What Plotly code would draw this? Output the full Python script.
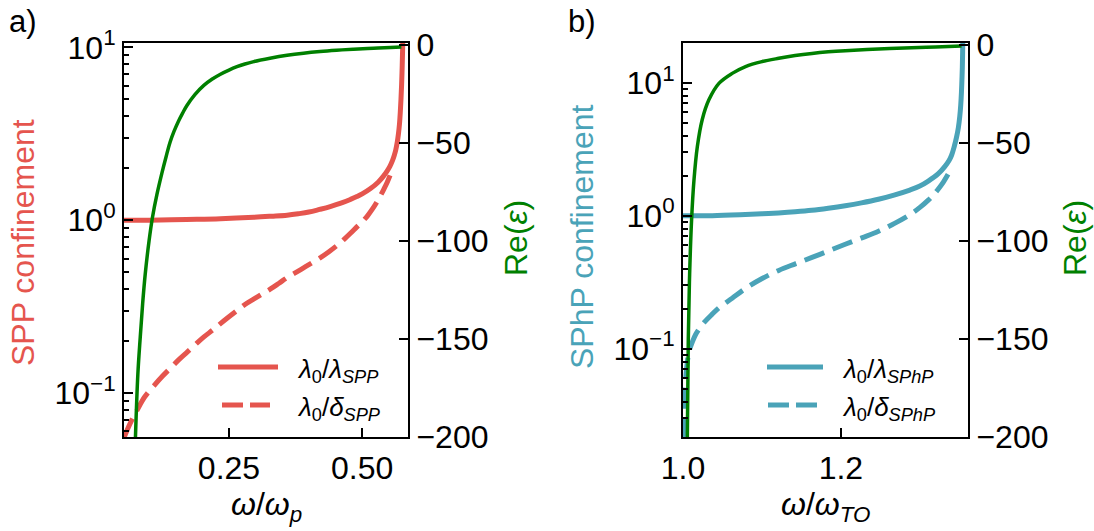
import plotly.graph_objects as go

# ---------------- data ----------------
# panel a: SPP (Drude metal), x = omega / omega_p
spp_w_lam = [0.053, 0.10, 0.17, 0.234, 0.297, 0.33, 0.359, 0.38, 0.40, 0.42, 0.44, 0.46, 0.478,
             0.49, 0.50, 0.515, 0.53, 0.54, 0.547, 0.552, 0.557, 0.560, 0.563, 0.566, 0.568,
             0.570, 0.5715, 0.5728, 0.5740, 0.5750, 0.5758, 0.5765]
spp_lam = [1.00, 1.00, 1.01, 1.02, 1.04, 1.055, 1.07, 1.09, 1.115, 1.155, 1.20, 1.255, 1.32,
           1.37, 1.42, 1.52, 1.66, 1.80, 1.93, 2.05, 2.22, 2.36, 2.55, 2.85, 3.15,
           3.6, 4.2, 5.0, 6.1, 7.6, 9.5, 12.0]

spp_w_del = [0.053, 0.060, 0.068, 0.078, 0.092, 0.109, 0.125, 0.14, 0.156, 0.172, 0.188, 0.203,
             0.22, 0.234, 0.25, 0.265, 0.28, 0.297, 0.313, 0.328, 0.344, 0.359, 0.375, 0.39,
             0.405, 0.421, 0.437, 0.453, 0.466, 0.478, 0.49, 0.50, 0.51, 0.52, 0.528,
             0.535, 0.541, 0.547, 0.553, 0.557]
spp_del = [0.055, 0.062, 0.070, 0.080, 0.095, 0.110, 0.125, 0.139, 0.156, 0.173, 0.192, 0.211,
           0.232, 0.252, 0.276, 0.300, 0.325, 0.350, 0.375, 0.400, 0.432, 0.465, 0.497, 0.53,
           0.565, 0.605, 0.655, 0.715, 0.775, 0.84, 0.915, 0.98, 1.06, 1.17, 1.28,
           1.40, 1.52, 1.66, 1.84, 2.0]

spp_w_eps = [0.0745, 0.079, 0.0835, 0.088, 0.0928, 0.100, 0.1064, 0.115, 0.124, 0.132, 0.1396,
             0.147, 0.155, 0.163, 0.1708, 0.186, 0.2028, 0.218, 0.234, 0.25, 0.265, 0.28,
             0.2965, 0.327, 0.359, 0.39, 0.421, 0.452, 0.483, 0.51, 0.530, 0.553, 0.5735]
spp_eps = [-200, -168, -149, -132, -117, -100, -88, -76, -65.5, -57, -49.5,
           -44, -39, -34.8, -31, -25.3, -20.6, -17.5, -14.9, -12.8, -11.1, -9.7,
           -8.5, -6.8, -5.3, -4.2, -3.35, -2.7, -2.15, -1.8, -1.55, -1.3, -1.1]

# panel b: SPhP (polar dielectric), x = omega / omega_TO
sphp_w_lam = [1.0, 1.037, 1.079, 1.10, 1.121, 1.142, 1.163, 1.184, 1.2055, 1.226, 1.2476,
              1.2673, 1.2873, 1.30, 1.3107, 1.3234, 1.3318, 1.3370, 1.3402, 1.3435, 1.3465,
              1.3488, 1.3506, 1.3518, 1.3527, 1.3533, 1.3538, 1.3542, 1.3546]
sphp_lam = [1.0, 1.0, 1.02, 1.033, 1.05, 1.072, 1.10, 1.14, 1.19, 1.25, 1.33,
            1.43, 1.56, 1.67, 1.82, 2.07, 2.35, 2.6, 2.85, 3.3, 3.9,
            4.6, 5.6, 6.8, 8.5, 10.5, 13, 17, 24]

sphp_w_del = [1.0005, 1.0015, 1.003, 1.005, 1.0076, 1.012, 1.016, 1.022, 1.0286, 1.037,
              1.0455, 1.0623, 1.0792, 1.1002, 1.1213, 1.1423, 1.1634, 1.1844, 1.2055, 1.2265,
              1.2476, 1.2686, 1.2897, 1.3005, 1.3107, 1.3175, 1.3234, 1.330, 1.336]
sphp_del = [0.021, 0.036, 0.055, 0.075, 0.095, 0.113, 0.128, 0.145, 0.162, 0.182,
            0.203, 0.240, 0.284, 0.337, 0.388, 0.435, 0.486, 0.544, 0.61, 0.682,
            0.764, 0.88, 1.04, 1.16, 1.31, 1.44, 1.59, 1.80, 2.06]

sphp_w_eps = [1.0055, 1.0067, 1.0084, 1.0109, 1.0139, 1.0181, 1.0244, 1.0328, 1.0455,
              1.0623, 1.0792, 1.1000, 1.1213, 1.142, 1.1634, 1.184, 1.2055, 1.2476, 1.2897,
              1.3200, 1.3528]
sphp_eps = [-200, -150, -117, -89, -69, -52, -38, -28, -19.6,
            -14.5, -11, -8.5, -6.8, -5.4, -4.3, -3.5, -2.9, -2.0, -1.4, -1.0, -0.5]

xticks_a = [0.25, 0.50]
xticklabels_a = ["0.25", "0.50"]
xticks_b = [1.0, 1.2]
xticklabels_b = ["1.0", "1.2"]
log_ticks = [0.1, 1, 10]
log_ticklabels = ["10<sup>−1</sup>", "10<sup>0</sup>", "10<sup>1</sup>"]
eps_ticks = [0, -50, -100, -150, -200]
eps_ticklabels = ["0", "−50", "−100", "−150", "−200"]

# ---------------- style ----------------
W, H = 1094, 531
RED = "#e5554e"
BLUE = "#4aa3b8"
GREEN = "#008000"
FONT = "Liberation Sans"
TICKFS = 32
LABFS = 32


def fx(p):
    return p / W


def fy(p):
    return 1 - p / H


fig = go.Figure()

SM = 1.0
# panel a
fig.add_trace(go.Scatter(x=spp_w_lam, y=spp_lam, mode="lines", xaxis="x", yaxis="y",
                         line=dict(color=RED, width=5, shape="spline", smoothing=SM),
                         showlegend=False))
fig.add_trace(go.Scatter(x=spp_w_del, y=spp_del, mode="lines", xaxis="x", yaxis="y",
                         line=dict(color=RED, width=5, dash="21px,9px", shape="spline",
                                   smoothing=SM),
                         showlegend=False))
fig.add_trace(go.Scatter(x=spp_w_eps, y=spp_eps, mode="lines", xaxis="x", yaxis="y2",
                         line=dict(color=GREEN, width=3.5, shape="spline", smoothing=SM),
                         showlegend=False))
# panel b
fig.add_trace(go.Scatter(x=sphp_w_lam, y=sphp_lam, mode="lines", xaxis="x2", yaxis="y3",
                         line=dict(color=BLUE, width=5, shape="spline", smoothing=SM),
                         showlegend=False))
fig.add_trace(go.Scatter(x=sphp_w_del, y=sphp_del, mode="lines", xaxis="x2", yaxis="y3",
                         line=dict(color=BLUE, width=5, dash="21px,9px", shape="spline",
                                   smoothing=SM),
                         showlegend=False))
fig.add_trace(go.Scatter(x=sphp_w_eps, y=sphp_eps, mode="lines", xaxis="x2", yaxis="y4",
                         line=dict(color=GREEN, width=3.5, shape="spline", smoothing=SM),
                         showlegend=False))

common_x = dict(ticks="inside", ticklen=9, tickwidth=2, tickcolor="black",
                showline=True, linewidth=2, linecolor="black", mirror=True,
                showgrid=False, zeroline=False, tickfont=dict(size=TICKFS, color="black"),
                ticklabelstandoff=2, automargin=False)
common_y = dict(ticks="inside", ticklen=9, tickwidth=2, tickcolor="black",
                showline=True, linewidth=2, linecolor="black",
                showgrid=False, zeroline=False, tickfont=dict(size=TICKFS, color="black"),
                ticklabelstandoff=0, automargin=False)

ydom = [fy(437), fy(43)]

minor_a = [0.06, 0.07, 0.08, 0.09, 0.2, 0.3, 0.4, 0.5, 0.6, 0.7, 0.8, 0.9,
           2, 3, 4, 5, 6, 7, 8, 9]
minor_b = [0.03, 0.04, 0.05, 0.06, 0.07, 0.08, 0.09, 0.2, 0.3, 0.4, 0.5, 0.6, 0.7, 0.8, 0.9,
           2, 3, 4, 5, 6, 7, 8, 9]

fig.update_layout(
    width=W, height=H,
    margin=dict(l=0, r=0, t=0, b=0, autoexpand=False),
    paper_bgcolor="white", plot_bgcolor="white",
    font=dict(family=FONT, color="black", size=TICKFS),
    xaxis=dict(domain=[fx(124), fx(408)], range=[0.053, 0.586], anchor="y",
               tickvals=xticks_a, ticktext=xticklabels_a, **common_x),
    yaxis=dict(domain=ydom, type="log", range=[-1.255, 1.026], anchor="x",
               tickvals=log_ticks, ticktext=log_ticklabels,
               minor=dict(tickvals=minor_a, ticks="inside", ticklen=5, tickwidth=1.5,
                          tickcolor="black"),
               **common_y),
    yaxis2=dict(overlaying="y", side="right", anchor="x", range=[-200, 1],
                tickvals=eps_ticks, ticktext=eps_ticklabels, **common_y),
    xaxis2=dict(domain=[fx(683), fx(968)], range=[1.0, 1.361], anchor="y3",
                tickvals=xticks_b, ticktext=xticklabels_b, **common_x),
    yaxis3=dict(domain=ydom, type="log", range=[-1.664, 1.299], anchor="x2",
                tickvals=log_ticks, ticktext=log_ticklabels,
                minor=dict(tickvals=minor_b, ticks="inside", ticklen=5, tickwidth=1.5,
                           tickcolor="black"),
                **common_y),
    yaxis4=dict(overlaying="y3", side="right", anchor="x2", range=[-200, 1],
                tickvals=eps_ticks, ticktext=eps_ticklabels, **common_y),
)

ann = []


def text(x, y, s, size=LABFS, color="black", angle=0, xanchor="center", yanchor="middle"):
    ann.append(dict(x=fx(x), y=fy(y), xref="paper", yref="paper", text=s, showarrow=False,
                    font=dict(family=FONT, size=size, color=color), textangle=angle,
                    xanchor=xanchor, yanchor=yanchor))


text(23, 22, "a)", size=31)
text(582, 22, "b)", size=31)
text(23, 243, "SPP confinement", color=RED, angle=-90)
text(582, 236, "SPhP confinement", color=BLUE, angle=-90)
text(516, 238, "Re(<i>ε</i>)", color=GREEN, angle=-90)
text(1075, 238, "Re(<i>ε</i>)", color=GREEN, angle=-90)
text(266, 506, "<i>ω</i>/<i>ω</i><sub><i>p</i></sub>")
text(825, 506, "<i>ω</i>/<i>ω</i><sub><i>TO</i></sub>")

# legends
LEGFS = 26
text(295, 370, "<i>λ</i><sub>0</sub>/<i>λ</i><sub><i>SPP</i></sub>", size=LEGFS, xanchor="left")
text(295, 408, "<i>λ</i><sub>0</sub>/<i>δ</i><sub><i>SPP</i></sub>", size=LEGFS, xanchor="left")
text(840, 370, "<i>λ</i><sub>0</sub>/<i>λ</i><sub><i>SPhP</i></sub>", size=LEGFS, xanchor="left")
text(840, 408, "<i>λ</i><sub>0</sub>/<i>δ</i><sub><i>SPhP</i></sub>", size=LEGFS, xanchor="left")

shapes = [
    dict(type="line", xref="paper", yref="paper", x0=fx(218), x1=fx(278), y0=fy(367), y1=fy(367),
         line=dict(color=RED, width=5)),
    dict(type="line", xref="paper", yref="paper", x0=fx(222), x1=fx(270), y0=fy(405), y1=fy(405),
         line=dict(color=RED, width=5, dash="21px,7px")),
    dict(type="line", xref="paper", yref="paper", x0=fx(767), x1=fx(823), y0=fy(367), y1=fy(367),
         line=dict(color=BLUE, width=5)),
    dict(type="line", xref="paper", yref="paper", x0=fx(768), x1=fx(817), y0=fy(405), y1=fy(405),
         line=dict(color=BLUE, width=5, dash="21px,7px")),
]

fig.update_layout(annotations=ann, shapes=shapes)
fig.write_html("out.html")
